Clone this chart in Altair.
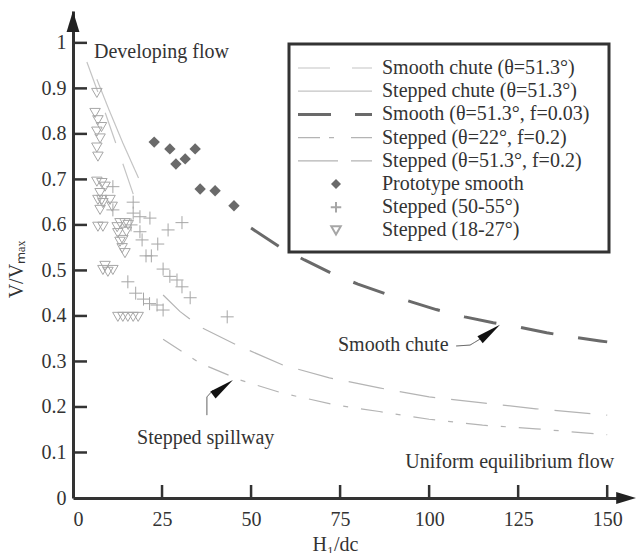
import altair as alt
import pandas as pd

# ---------------- data ----------------
names = [
    "Smooth chute (θ=51.3°)",
    "Stepped chute (θ=51.3°)",
    "Smooth (θ=51.3°, f=0.03)",
    "Stepped (θ=22°, f=0.2)",
    "Stepped (θ=51.3°, f=0.2)",
    "Prototype smooth",
    "Stepped (50-55°)",
    "Stepped (18-27°)",
]

smooth_chute_x = [3.9, 8.0, 12.0, 15.5, 17.6]
smooth_chute_y = [0.958, 0.870, 0.780, 0.700, 0.652]

stepped_chute_x = [6.7, 10.0, 14.0, 18.4]
stepped_chute_y = [0.920, 0.855, 0.780, 0.703]

smooth_f003_x = [50, 58, 65, 73, 80, 88, 95, 102, 110, 118, 125, 133, 140, 148, 150]
smooth_f003_y = [0.593, 0.552, 0.523, 0.492, 0.470, 0.448, 0.431, 0.414, 0.398, 0.385,
                 0.376, 0.363, 0.354, 0.345, 0.343]

stepped22_x = [25.3, 35.7, 47, 59, 74, 86, 100, 115, 130, 150]
stepped22_y = [0.349, 0.296, 0.259, 0.230, 0.204, 0.190, 0.173, 0.160, 0.152, 0.139]

stepped51_x = [25.3, 30, 35.7, 46, 59, 72, 86, 100, 115, 130, 150]
stepped51_y = [0.446, 0.410, 0.376, 0.336, 0.292, 0.264, 0.242, 0.222, 0.209, 0.196, 0.182]

proto_x = [22.8, 27.2, 28.9, 31.5, 34.3, 35.7, 39.9, 45.2]
proto_y = [0.782, 0.767, 0.734, 0.745, 0.767, 0.679, 0.675, 0.642]

plus_x = [11.2, 16.9, 11.2, 16.9, 18.8, 21.6, 30.6, 26.7, 18.8, 19.4, 23.8, 20.5, 22.0,
          25.3, 27.2, 29.2, 30.6, 32.9, 15.4, 17.6, 19.8, 21.5, 23.6, 25.3, 43.3, 16.3]
plus_y = [0.684, 0.650, 0.633, 0.626, 0.618, 0.615, 0.605, 0.589, 0.585, 0.567, 0.558,
          0.532, 0.532, 0.503, 0.487, 0.479, 0.464, 0.440, 0.475, 0.450, 0.437, 0.427,
          0.424, 0.413, 0.398, 0.600]

tri_x = [6.7, 6.2, 7.0, 6.7, 7.6, 6.7, 7.0, 8.0,
         6.7, 8.1, 9.0, 7.6, 8.1, 10.4, 7.0, 8.4, 7.6, 11.0,
         7.0, 8.4, 13.2, 14.6, 15.5, 12.6, 14.0, 13.2, 13.8, 14.6, 12.4, 15.0,
         8.4, 9.8, 11.2, 9.0,
         12.6, 14.0, 15.4, 16.9, 18.3]
tri_y = [0.890, 0.846, 0.830, 0.805, 0.790, 0.770, 0.750, 0.815,
         0.695, 0.692, 0.684, 0.670, 0.655, 0.655, 0.655, 0.648, 0.633, 0.640,
         0.596, 0.596, 0.604, 0.604, 0.600, 0.582, 0.567, 0.563, 0.549, 0.538, 0.595, 0.585,
         0.501, 0.497, 0.501, 0.510,
         0.398, 0.398, 0.398, 0.398, 0.398]

ann_text = ["Developing flow", "Smooth chute", "Stepped spillway", "Uniform equilibrium flow"]
ann_x = [5.9, 74.4, 18.0, 93.3]
ann_y = [0.980, 0.336, 0.132, 0.079]

lead1_x = [107.6, 111.5, 114.9]
lead1_y = [0.334, 0.336, 0.352]
lead2_x = [37.6, 37.6, 39.3]
lead2_y = [0.182, 0.222, 0.237]
head_x = [117.1, 42.1]
head_y = [0.364, 0.243]

x_ticks = [0, 25, 50, 75, 100, 125, 150]
y_ticks = [0, 0.1, 0.2, 0.3, 0.4, 0.5, 0.6, 0.7, 0.8, 0.9, 1]

# ---------------- styling ----------------
X_MAX = 155
Y_MAX = 1.07
W, H = 552, 487
FONT = "Liberation Serif"
FS = 20
INK = "#333333"
LIGHT1 = "#c4c4c4"
LIGHT2 = "#b4b4b4"
DARK = "#6a6a6a"
MARK_GRAY = "#a6a6a6"
PLUS = "M-1,0L1,0M0,-1L0,1"
HEAD = "M0,-1L0.35,1L-0.35,1Z"
UP_ARROW = "M0,0L0.55,1.8L-0.55,1.8Z"
RIGHT_ARROW = "M1,0L-0.8,0.55L-0.8,-0.55Z"


def df(xs, ys):
    return pd.DataFrame({"x": xs, "y": ys})


axis_style = dict(ticks=False, grid=False, labelFont=FONT, labelFontSize=FS, labelColor=INK,
                  titleFont=FONT, titleFontSize=FS, titleColor=INK, titleFontWeight="normal",
                  domainColor=INK, domainWidth=3)

X = alt.X("x:Q", scale=alt.Scale(domain=[0, X_MAX], nice=False, zero=False),
          axis=alt.Axis(values=x_ticks, title="H₁/dc", labelPadding=11,
                        titleX=262, titleY=46, titleBaseline="middle", **axis_style))
Y = alt.Y("y:Q", scale=alt.Scale(domain=[0, Y_MAX], nice=False, zero=False),
          axis=alt.Axis(values=y_ticks, title="V/Vₘₐₓ", labelPadding=7, format="~g",
                        titleAngle=-90, titleX=-57, titleY=258, titleAlign="center",
                        titleBaseline="middle", **axis_style))


def line(xs, ys, color, dash, width):
    return alt.Chart(df(xs, ys)).mark_line(
        color=color, strokeDash=dash, strokeWidth=width, clip=False
    ).encode(x=X, y=Y, order="x:Q")


layers = []
layers.append(line(smooth_chute_x, smooth_chute_y, LIGHT1, [32, 22], 1.2))
layers.append(line(stepped_chute_x, stepped_chute_y, LIGHT1, [1, 0], 1.2))
layers.append(line(stepped22_x, stepped22_y, LIGHT2, [22, 13, 5, 13], 1.2))
layers.append(line(stepped51_x, stepped51_y, LIGHT2, [36, 16], 1.2))
layers.append(line(smooth_f003_x, smooth_f003_y, DARK, [33, 25], 3))

layers.append(alt.Chart(df(tri_x, tri_y)).mark_point(
    shape="triangle-down", filled=False, color=MARK_GRAY, size=110, opacity=1, strokeWidth=1
).encode(x=X, y=Y))
layers.append(alt.Chart(df(plus_x, plus_y)).mark_point(
    shape=PLUS, filled=False, color=MARK_GRAY, size=169, opacity=1, strokeWidth=1
).encode(x=X, y=Y))
layers.append(alt.Chart(df(proto_x, proto_y)).mark_point(
    shape="diamond", filled=True, color=DARK, size=130, opacity=1
).encode(x=X, y=Y))

# annotations
ann = pd.DataFrame({"x": ann_x, "y": ann_y, "t": ann_text})
layers.append(alt.Chart(ann).mark_text(
    align="left", baseline="middle", font=FONT, fontSize=FS, color=INK
).encode(x=X, y=Y, text="t:N"))
layers.append(line(lead1_x, lead1_y, "#555555", [1, 0], 1))
layers.append(line(lead2_x, lead2_y, "#555555", [1, 0], 1))
heads = pd.DataFrame({"x": head_x, "y": head_y})
layers.append(alt.Chart(heads).mark_point(
    shape=HEAD, filled=True, color="#111111", size=625, angle=53, opacity=1
).encode(x=X, y=Y))

# inward ticks
layers.append(alt.Chart(pd.DataFrame({"y": y_ticks[1:]})).mark_rule(
    color=INK, strokeWidth=2.5).encode(y=Y, x=alt.value(0), x2=alt.value(14)))
layers.append(alt.Chart(pd.DataFrame({"x": x_ticks[1:]})).mark_rule(
    color=INK, strokeWidth=2.5).encode(x=X, y=alt.value(H), y2=alt.value(H - 13)))

# axis arrow heads
layers.append(alt.Chart(df([0], [Y_MAX])).mark_point(
    shape=UP_ARROW, filled=True, color="#222222", size=547, opacity=1).encode(x=X, y=Y))
layers.append(alt.Chart(df([X_MAX], [0])).mark_point(
    shape=RIGHT_ARROW, filled=True, color="#222222", size=484, opacity=1).encode(x=X, y=Y))

# legend (drawn by hand)
one = pd.DataFrame({"k": [0]})
LX0, LX1, LY0, LY1 = 216, 536, 33, 241
layers.append(alt.Chart(one).mark_rect(
    fill="white", stroke=INK, strokeWidth=3
).encode(x=alt.value(LX0), x2=alt.value(LX1), y=alt.value(LY0), y2=alt.value(LY1)))

legend_styles = [
    ("line", LIGHT1, [32, 22], 1.2),
    ("line", LIGHT1, [1, 0], 1.2),
    ("line", DARK, [33, 24], 3),
    ("line", LIGHT2, [22, 9, 5, 17], 1.2),
    ("line", LIGHT2, [40, 13], 1.2),
    ("diamond", DARK, None, None),
    ("plus", MARK_GRAY, None, None),
    ("tri", MARK_GRAY, None, None),
]
for i, (name, (kind, col, dash, wid)) in enumerate(zip(names, legend_styles)):
    yy = 57 + 23.2 * i
    if kind == "line":
        layers.append(alt.Chart(one).mark_rule(color=col, strokeDash=dash, strokeWidth=wid).encode(
            x=alt.value(225), x2=alt.value(299), y=alt.value(yy)))
    elif kind == "diamond":
        layers.append(alt.Chart(one).mark_point(shape="diamond", filled=True, color=col, size=100,
                                                opacity=1).encode(x=alt.value(263), y=alt.value(yy)))
    elif kind == "plus":
        layers.append(alt.Chart(one).mark_point(shape=PLUS, filled=False, color=col, size=110,
                                                opacity=1).encode(x=alt.value(263), y=alt.value(yy)))
    else:
        layers.append(alt.Chart(one).mark_point(shape="triangle-down", filled=False, color=col,
                                                size=90, opacity=1).encode(x=alt.value(263), y=alt.value(yy)))
    layers.append(alt.Chart(one).mark_text(
        align="left", baseline="middle", font=FONT, fontSize=FS, color=INK
    ).encode(x=alt.value(309), y=alt.value(yy), text=alt.value(name)))

chart = alt.layer(*layers).properties(
    width=W, height=H,
    autosize=alt.AutoSizeParams(type="none"),
    padding={"left": 73, "top": 11, "right": 11, "bottom": 55},
    background="white",
).configure_view(stroke=None).configure_axis(
    domainColor=INK, domainWidth=3, labelFont=FONT, labelFontSize=FS, labelColor=INK,
    titleFont=FONT, titleFontSize=FS, titleColor=INK, titleFontWeight="normal",
)

chart.save("out.html", embed_options={"renderer": "svg", "actions": False})
